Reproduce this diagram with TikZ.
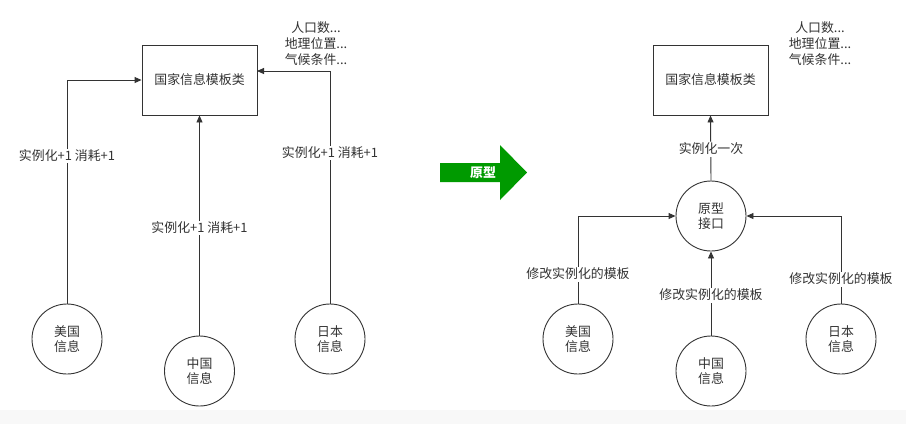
\documentclass[tikz,border=0pt]{standalone}
\usepackage{fontspec}
\newfontfamily\cjk{Noto Sans CJK SC}
\usetikzlibrary{arrows.meta}
\definecolor{ink}{HTML}{333333}
\definecolor{arrowgreen}{HTML}{009A00}
\definecolor{strip}{HTML}{F8F8F8}
\begin{document}
\begin{tikzpicture}[x=1pt,y=-1pt,
  every node/.style={font=\cjk\fontsize{12.9}{15.5}\selectfont, text=ink},
  box/.style={draw=ink, line width=0.9pt, minimum width=115pt, minimum height=70pt, inner sep=0pt},
  circ/.style={draw=ink, circle, line width=0.9pt, minimum size=70pt, inner sep=0pt, align=center},
  conn/.style={draw=ink, line width=0.9pt, -{Triangle[length=7pt,width=6pt]}},
  lbl/.style={fill=white, inner sep=1.5pt},
  note/.style={align=center, font=\cjk\fontsize{12.9}{16}\selectfont}]
\useasboundingbox (0,0) rectangle (906,424);
\fill[white] (0,0) rectangle (906,424);
\fill[strip] (0,410) rectangle (906,424);

% ---------- left ----------
\node[box] (L) at (199.5,80) {国家信息模板类};
\node[note] (Lnote) at (316,44) {人口数...\\地理位置...\\气候条件...};
\node[circ] (Lus) at (67,339) {美国\\信息};
\node[circ] (Lcn) at (199.5,371) {中国\\信息};
\node[circ] (Ljp) at (330,339) {日本\\信息};
\coordinate (Lusbend) at (67,80);
\coordinate (Ljpbend) at (330,71);
\coordinate (Ljpend) at (257,71);
\draw[conn] (Lus.north) -- (Lusbend) -- (L.west);
\draw[conn] (Lcn.north) -- (L.south);
\draw[conn] (Ljp.north) -- (Ljpbend) -- (Ljpend);
\node[lbl] (Lusl) at (67,156) {实例化+1 消耗+1};
\node[lbl] (Lcnl) at (199.5,228) {实例化+1 消耗+1};
\node[lbl] (Ljpl) at (330,153) {实例化+1 消耗+1};

% ---------- middle arrow ----------
\fill[arrowgreen] (440,163) -- (500,163) -- (500,145) -- (527,172.5) -- (500,200) -- (500,182) -- (440,182) -- cycle;
\node[text=white, font=\cjk\bfseries\fontsize{12.9}{15}\selectfont] (proto) at (483,172.5) {原型};

% ---------- right ----------
\node[box] (R) at (710.5,80) {国家信息模板类};
\node[note] (Rnote) at (820,44) {人口数...\\地理位置...\\气候条件...};
\node[circ] (P) at (711,216) {原型\\接口};
\node[circ] (Rus) at (578,339) {美国\\信息};
\node[circ] (Rcn) at (711,371) {中国\\信息};
\node[circ] (Rjp) at (841,339) {日本\\信息};
\coordinate (Rusbend) at (578,216);
\coordinate (Rjpbend) at (841,216);
\draw[conn] (P.north) -- (R.south);
\draw[conn] (Rus.north) -- (Rusbend) -- (P.west);
\draw[conn] (Rcn.north) -- (P.south);
\draw[conn] (Rjp.north) -- (Rjpbend) -- (P.east);
\node[lbl] (Pl) at (711,149) {实例化一次};
\node[lbl] (Rusl) at (578,274) {修改实例化的模板};
\node[lbl] (Rcnl) at (711,295) {修改实例化的模板};
\node[lbl] (Rjpl) at (841,279) {修改实例化的模板};
\end{tikzpicture}
\end{document}
